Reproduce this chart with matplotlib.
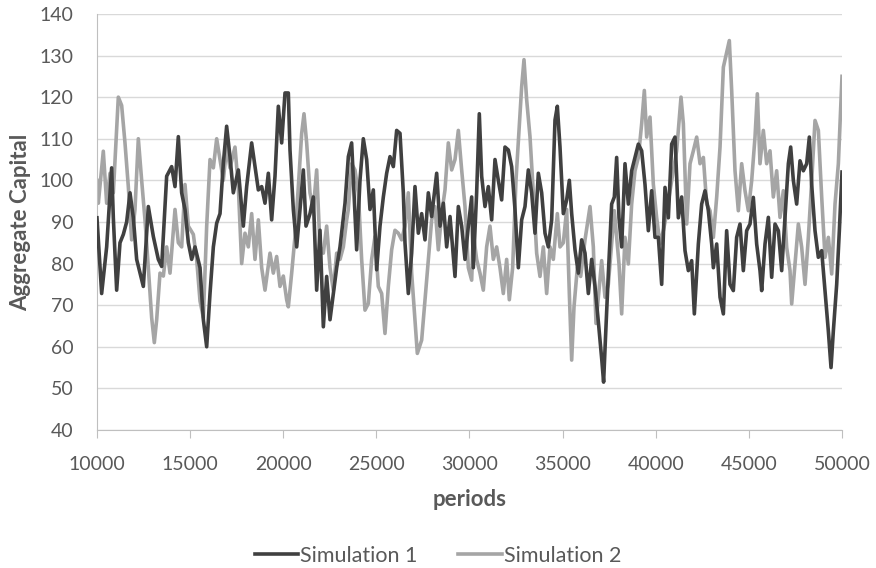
import matplotlib
matplotlib.use("Agg")
import matplotlib.pyplot as plt
import numpy as np

# values
periods_1 = [10000, 10251, 10520, 10788, 10878, 11057, 11236, 11415, 11594, 11773,
             11952, 12131, 12310, 12489, 12757, 13026, 13294, 13473, 13742, 14010,
             14189, 14368, 14547, 14726, 14905, 15084, 15263, 15532, 15711, 15890,
             16069, 16248, 16427, 16606, 16783, 16962, 17141, 17320, 17589, 17857,
             18036, 18305, 18484, 18663, 18842, 19021, 19200, 19379, 19558, 19737,
             19916, 20095, 20274, 20363, 20542, 20721, 20900, 21079, 21222, 21437,
             21616, 21795, 21974, 22153, 22332, 22511, 22690, 22869, 23048, 23317,
             23496, 23673, 23816, 23942, 24121, 24300, 24479, 24658, 24837, 25016,
             25195, 25374, 25553, 25732, 25911, 26090, 26269, 26448, 26537, 26716,
             26895, 27074, 27253, 27432, 27611, 27790, 27969, 28238, 28417, 28596,
             28775, 28954, 29222, 29401, 29580, 29759, 29938, 30117, 30205, 30384,
             30527, 30653, 30832, 31011, 31190, 31369, 31548, 31727, 31906, 32085,
             32264, 32443, 32622, 32801, 32980, 33159, 33338, 33517, 33696, 33875,
             34054, 34233, 34412, 34591, 34716, 34859, 35038, 35217, 35360, 35486,
             35665, 35844, 36023, 36202, 36381, 36560, 36739, 36918, 37100, 37200,
             37300, 37454, 37633, 37776, 37901, 38027, 38170, 38349, 38528, 38707,
             38886, 39065, 39244, 39423, 39602, 39781, 39960, 40139, 40318, 40497,
             40676, 40855, 41034, 41213, 41392, 41571, 41750, 41929, 42072, 42287,
             42466, 42645, 42824, 43003, 43093, 43272, 43451, 43630, 43807, 43986,
             44165, 44344, 44523, 44702, 44881, 45060, 45239, 45418, 45597, 45687,
             45866, 46045, 46224, 46403, 46582, 46761, 46940, 47119, 47244, 47387,
             47566, 47745, 47924, 48103, 48246, 48371, 48550, 48729, 48908, 49087,
             49266, 49410, 49535, 49714, 49857, 50000]
capital_1 = [91, 72.8, 84, 103, 91, 73.6, 85, 87, 90, 97,
             91, 81, 77.7, 74.5, 93.7, 86.5, 81, 79.3, 101, 103.3,
             98.5, 110.5, 97, 93, 85, 81, 84, 79, 66.5, 60,
             72.8, 84, 89.7, 92, 104, 113, 105.7, 97, 102.5, 89,
             98.5, 109, 103.3, 97.7, 98.5, 94.5, 101.7, 90.5, 101, 117.8,
             109, 121, 121, 107.3, 93, 84, 93, 102.5, 89, 92,
             96, 73.6, 88, 64.8, 76.9, 66.5, 72.8, 79, 84, 94.5,
             105.7, 109, 95.3, 83.3, 100, 110, 105, 93, 97.7, 78.5,
             89, 96, 101.7, 105.7, 103.3, 112, 111.3, 97, 85, 72.8,
             82.5, 98.5, 87.3, 92, 85.7, 97, 91.3, 101.7, 89, 94.5,
             84, 91.3, 76.9, 93.7, 89, 81, 89, 96, 79, 97,
             116, 101, 93.7, 98.5, 90.5, 105, 100, 95.3, 108, 107.3,
             103.3, 93, 79, 90.5, 93.7, 102.5, 97, 87.3, 101.7, 97,
             87.3, 84, 90.5, 114.5, 117.8, 108, 92, 95.3, 100, 92,
             83.3, 77.7, 85.7, 82.5, 72.8, 81, 74.5, 66, 57, 51.5,
             62, 77.5, 94.3, 96, 105.5, 91, 84, 104, 94.3, 102.3,
             105.5, 108.7, 107.1, 99, 87.9, 97.5, 86.3, 86.3, 75, 98.3,
             91, 108.7, 110.4, 91, 96, 83.1, 78.3, 80.7, 67.9, 84.7,
             94.3, 97.5, 92.7, 84.7, 79, 84.7, 71.9, 67.9, 87.9, 75,
             73.5, 86.3, 89.5, 78.3, 87.9, 89.5, 95.9, 84.7, 78.3, 73.5,
             84.7, 91.1, 76.7, 89.5, 87.9, 78.3, 91.1, 104, 108, 100,
             94.3, 104.7, 102.3, 104, 110.4, 99, 87.9, 81.5, 83.1, 73.5,
             63.8, 55, 63.8, 75, 87.9, 102]

periods_2 = [10000, 10072, 10340, 10520, 10699, 10878, 11146, 11325, 11504, 11683,
             11862, 12041, 12220, 12399, 12578, 12757, 12936, 13079, 13205, 13384,
             13563, 13742, 13921, 14189, 14368, 14547, 14726, 14905, 15174, 15353,
             15532, 15711, 15890, 16069, 16248, 16427, 16606, 16783, 16962, 17141,
             17410, 17589, 17768, 17947, 18126, 18305, 18484, 18663, 18842, 19021,
             19289, 19468, 19647, 19826, 20005, 20184, 20274, 20453, 20632, 20811,
             20990, 21115, 21258, 21437, 21616, 21795, 21974, 22153, 22332, 22511,
             22690, 22869, 23048, 23227, 23406, 23494, 23673, 23852, 24031, 24210,
             24389, 24568, 24747, 24926, 25105, 25284, 25463, 25642, 25821, 26000,
             26179, 26358, 26537, 26716, 26895, 27074, 27199, 27432, 27611, 27790,
             27969, 28148, 28327, 28506, 28685, 28864, 29043, 29222, 29401, 29580,
             29759, 29938, 30117, 30205, 30384, 30563, 30742, 30921, 31100, 31279,
             31458, 31637, 31816, 31995, 32138, 32317, 32496, 32675, 32801, 32926,
             33069, 33248, 33427, 33606, 33785, 33964, 34143, 34322, 34501, 34716,
             34859, 35038, 35217, 35360, 35486, 35611, 35790, 35969, 36202, 36470,
             36649, 36792, 36971, 37096, 37275, 37454, 37633, 37776, 37901, 38027,
             38170, 38349, 38528, 38707, 38886, 39065, 39244, 39387, 39512, 39691,
             39870, 40049, 40228, 40407, 40586, 40765, 40944, 41123, 41356, 41482,
             41661, 41840, 42019, 42198, 42377, 42556, 42735, 42914, 43093, 43272,
             43451, 43630, 43950, 44076, 44255, 44434, 44613, 44792, 44971, 45150,
             45329, 45454, 45597, 45776, 45955, 46134, 46313, 46492, 46671, 46850,
             47029, 47208, 47298, 47477, 47656, 47835, 48014, 48193, 48372, 48551,
             48730, 48909, 49088, 49267, 49446, 49625, 49804, 50000]
capital_2 = [100, 94.5, 107, 94.5, 101.7, 97, 120, 118, 109, 98.5,
             85.7, 93, 110, 100, 90.5, 79, 67, 61, 66.5, 77.7,
             77, 84, 77.7, 93, 85, 84, 99, 89, 87, 81,
             71, 67, 89, 105, 103, 110, 105, 100, 108, 103,
             108, 98.5, 80, 87.3, 84, 92, 81, 90.5, 79, 73.6,
             82.5, 77.7, 81.7, 74.5, 77, 71.3, 69.6, 77.7, 86.5, 98.5,
             111.3, 116, 109, 97, 93, 102.5, 84, 82.5, 89, 79,
             73.6, 82.5, 81, 84, 90.5, 93, 104, 102.5, 97, 81,
             68.8, 70.4, 81, 86.5, 74.5, 72.8, 63.2, 74.5, 83.3, 88,
             87.3, 85.7, 89, 97, 77.7, 66.5, 58.4, 61.6, 71.3, 81,
             90.5, 93.7, 83.3, 92, 97.7, 109, 102.5, 105, 112, 102.5,
             93.7, 79, 76, 87.3, 81, 77.7, 73.6, 84, 89, 81,
             84, 79, 72.8, 81, 71.3, 79, 100, 113, 122.5, 129,
             119.4, 110.5, 97, 82.5, 76.9, 84, 72.8, 84, 81, 92,
             84, 85, 93, 72.8, 56.8, 69.6, 79, 76.9, 85.7, 93.7,
             84, 65.6, 74.5, 80.7, 71.9, 75, 84.7, 92.7, 86.3, 79.9,
             67.9, 86.3, 79.9, 94.3, 102.3, 105.5, 113.6, 121.6, 110.4, 115.2,
             99.1, 91, 84.7, 87.9, 91.9, 97.5, 102.3, 107.1, 120, 113.6,
             89.5, 104, 107.1, 110.4, 104, 105.5, 94.3, 92.7, 86.3, 96,
             108, 127.2, 133.6, 121.6, 102.3, 92.7, 104, 97.5, 92.7, 99.9,
             110.4, 120.8, 104, 112, 104, 107.1, 96, 102.3, 91.1, 97.5,
             83.9, 78.3, 70.3, 79.9, 89.5, 83.9, 75, 86.3, 99.9, 114.4,
             112, 96, 81.5, 86.3, 77.5, 94.3, 104, 125]

x_ticks = [10000, 15000, 20000, 25000, 30000, 35000, 40000, 45000, 50000]
y_ticks = [40, 50, 60, 70, 80, 90, 100, 110, 120, 130, 140]

plt.rcParams['font.family'] = ['Lato', 'DejaVu Sans']
text_col = '#595959'

fig = plt.figure(figsize=(8.76, 5.68), dpi=100)
ax = fig.add_axes([0.1107, 0.243, 0.8505, 0.7325])

ax.plot(periods_1, capital_1, color='#404040', lw=2.6, label='Simulation 1', zorder=3)
ax.plot(periods_2, capital_2, color='#a5a5a5', lw=2.6, label='Simulation 2', zorder=2)

ax.set_xlim(10000, 50000)
ax.set_ylim(40, 140)
ax.set_xticks(x_ticks)
ax.set_yticks(y_ticks)
ax.grid(axis='y', color='#d9d9d9', lw=1)
ax.set_axisbelow(True)

for s in ['top', 'right']:
    ax.spines[s].set_visible(False)
ax.spines['left'].set_color('#bfbfbf')
ax.spines['bottom'].set_color('#bfbfbf')
ax.tick_params(axis='y', length=0, pad=17, labelsize=14, labelcolor=text_col)
ax.tick_params(axis='x', length=6, color='#bfbfbf', pad=13, labelsize=14, labelcolor=text_col)

ax.set_xlabel('periods', fontsize=16, fontweight='bold', color=text_col, labelpad=11)
ax.set_ylabel('Aggregate Capital', fontsize=16, fontweight='bold', color=text_col, labelpad=6)

leg = fig.legend(loc='center', bbox_to_anchor=(0.5, 0.022), ncol=2, frameon=False,
                 fontsize=15.5, handlelength=2.0, handletextpad=0.1, columnspacing=1.9,
                 labelcolor=text_col)

fig.savefig('out.png', dpi=100)
